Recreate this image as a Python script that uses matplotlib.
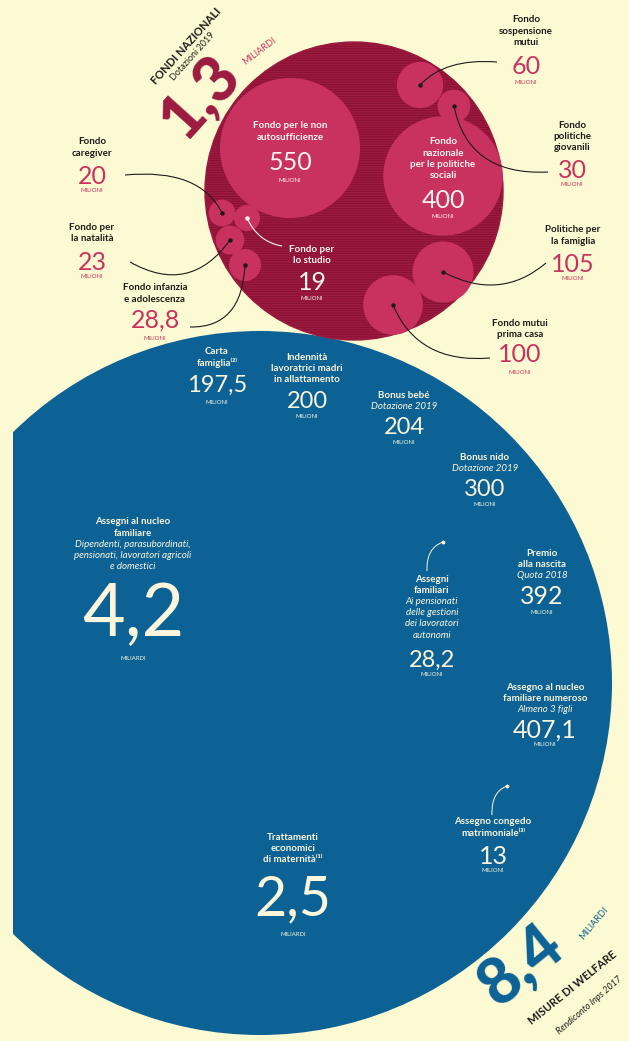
import matplotlib
matplotlib.use("Agg")
import matplotlib.pyplot as plt
from matplotlib.patches import Circle, Rectangle, PathPatch
from matplotlib.path import Path
import numpy as np

plt.rcParams['font.family'] = ['Lato', 'DejaVu Sans']
plt.rcParams['hatch.linewidth'] = 0.6

# ---------------- DATA ----------------
total_fondi = "1,3"
total_fondi_unit = "MILIARDI"
total_welfare = "8,4"
total_welfare_unit = "MILIARDI"

fondi_names = [
    "Fondo per le non\nautosufficienze",
    "Fondo\nnazionale\nper le politiche\nsociali",
    "Politiche per\nla famiglia",
    "Fondo mutui\nprima casa",
    "Fondo\nsospensione\nmutui",
    "Fondo\npolitiche\ngiovanili",
    "Fondo infanzia\ne adolescenza",
    "Fondo per\nla natalità",
    "Fondo\ncaregiver",
    "Fondo per\nlo studio",
]
fondi_values = [550, 400, 105, 100, 60, 30, 28.8, 23, 20, 19]  # milioni
fondi_value_labels = ["550", "400", "105", "100", "60", "30", "28,8", "23", "20", "19"]

welfare_names = [
    "Assegni al nucleo\nfamiliare",
    "Trattamenti\neconomici\ndi maternità⁽¹⁾",
    "Assegno al nucleo\nfamiliare numeroso",
    "Premio\nalla nascita",
    "Bonus nido",
    "Bonus bebé",
    "Indennità\nlavoratrici madri\nin allattamento",
    "Carta\nfamiglia⁽²⁾",
    "Assegni\nfamiliari",
    "Assegno congedo\nmatrimoniale⁽³⁾",
]
welfare_notes = [
    "Dipendenti, parasubordinati,\npensionati, lavoratori agricoli\ne domestici",
    "",
    "Almeno 3 figli",
    "Quota 2018",
    "Dotazione 2019",
    "Dotazione 2019",
    "",
    "",
    "Ai pensionati\ndelle gestioni\ndei lavoratori\nautonomi",
    "",
]
welfare_value_labels = ["4,2", "2,5", "407,1", "392", "300", "204", "200", "197,5", "28,2", "13"]
welfare_units = ["MILIARDI", "MILIARDI", "MILIONI", "MILIONI", "MILIONI",
                 "MILIONI", "MILIONI", "MILIONI", "MILIONI", "MILIONI"]

# ---------------- STYLE / LAYOUT ----------------
BG = '#FCFAD2'
MAROON = '#9C1A40'
STRIPE = '#86102F'
PINK = '#C9325F'
BLUE = '#0C6295'
CREAM = '#FBF6DC'
DARK = '#1E1A1A'

fondi_layout = [
    dict(c=(290, 148), lab=(290, 126), vy=163, uy=180, inside=True),
    dict(c=(443, 176), lab=(443, 142), vy=200, uy=216, inside=True),
    dict(c=(443, 272), lab=(573, 230), vy=264, uy=279, inside=False,
         ctrl=(500, 302), end=(546, 263)),
    dict(c=(393, 305), lab=(520, 323), vy=355, uy=372, inside=False,
         ctrl=(418, 364), end=(490, 358)),
    dict(c=(420, 85), lab=(526, 20), vy=66, uy=82, inside=False,
         ctrl=(445, 58), end=(497, 62)),
    dict(c=(454, 106), lab=(572, 125), vy=170, uy=185, inside=False,
         ctrl=(468, 176), end=(548, 172)),
    dict(c=(245, 265), lab=(155, 288), vy=320, uy=338, inside=False,
         ctrl=(242, 328), end=(190, 327)),
    dict(c=(230, 240), lab=(92, 227), vy=262, uy=276, inside=False,
         ctrl=(190, 296), end=(130, 262)),
    dict(c=(222, 213), lab=(92, 142), vy=177, uy=191, inside=False,
         ctrl=(200, 168), end=(125, 175)),
    dict(c=(247, 218), lab=(312, 249), vy=283, uy=299, inside=True,
         ctrl=(258, 242), end=(282, 246), white_line=True),
]

welfare_layout = [
    dict(x=133, y=522, vy=615, uy=658, vs=53),
    dict(x=293, y=837, vy=900, uy=934, vs=40),
    dict(x=545, y=687, vy=730, uy=745, vs=18),
    dict(x=542, y=553, vy=596, uy=612, vs=18),
    dict(x=485, y=457, vy=490, uy=505, vs=17),
    dict(x=404, y=395, vy=428, uy=443, vs=17),
    dict(x=307, y=357, vy=401, uy=417, vs=17),
    dict(x=217, y=352, vy=385, uy=403, vs=17),
    dict(x=432, y=579, vy=660, uy=675, vs=17,
         arc=((427, 571), (426, 548), (443, 542))),
    dict(x=493, y=822, vy=857, uy=871, vs=18,
         arc=((492, 815), (491, 792), (507, 786))),
]

BUBBLE_SCALE = 70 / np.sqrt(550)  # radius in px per sqrt(milioni)
LH = 11.2

fig = plt.figure(figsize=(6.29, 10.41), dpi=100)
fig.patch.set_facecolor(BG)
ax = fig.add_axes([0, 0, 1, 1])
ax.set_xlim(0, 629)
ax.set_ylim(1041, 0)
ax.axis('off')
ax.set_facecolor(BG)


def curve(p0, c, p2, color, lw=0.8):
    path = Path([p0, c, p2], [Path.MOVETO, Path.CURVE3, Path.CURVE3])
    ax.add_patch(PathPatch(path, fc='none', ec=color, lw=lw, zorder=6))


def lines_block(x, y, text, color, weight='bold', style='normal', size=7):
    n = 0
    for i, t in enumerate(text.split("\n")):
        ax.text(x, y + i * LH, t, ha='center', va='center', fontsize=size,
                color=color, fontweight=weight, fontstyle=style, zorder=7)
        n += 1
    return n


# ---- blue circle (welfare) ----
blue = Circle((260, 683), 352, fc=BLUE, ec='none', zorder=1)
ax.add_patch(blue)
clip = Rectangle((13, 0), 700, 1041, transform=ax.transData)
blue.set_clip_path(clip)

# ---- maroon circle (fondi) ----
ax.add_patch(Circle((354, 191), 149, fc=MAROON, ec=STRIPE, lw=0,
                    hatch='-------', zorder=2))
ax.add_patch(Circle((354, 191), 149, fc='none', ec=MAROON, lw=1.0, zorder=2))

for name, val, vlab, lay in zip(fondi_names, fondi_values, fondi_value_labels, fondi_layout):
    r = BUBBLE_SCALE * np.sqrt(val)
    ax.add_patch(Circle(lay['c'], r, fc=PINK, ec='none', zorder=3))
    lx, ly = lay['lab']
    if lay['inside']:
        tcol, vcol = '#FFF6F0', '#FFF6F0'
    else:
        tcol, vcol = DARK, PINK
    lines_block(lx, ly, name, tcol)
    ax.text(lx, lay['vy'], vlab, ha='center', va='center', fontsize=18,
            color=vcol, fontweight='normal', zorder=7)
    ax.text(lx, lay['uy'], "MILIONI", ha='center', va='center', fontsize=4.3,
            color=vcol, zorder=7)
    if 'ctrl' in lay:
        lc = '#FFF6F0' if lay.get('white_line') else DARK
        curve(lay['c'], lay['ctrl'], lay['end'], lc, lw=0.8)
        ax.plot(*lay['c'], 'o', ms=2.2, color=lc, zorder=8)

# ---- welfare labels ----
for name, note, vlab, unit, lay in zip(welfare_names, welfare_notes, welfare_value_labels,
                                       welfare_units, welfare_layout):
    n = lines_block(lay['x'], lay['y'], name, CREAM)
    if note:
        lines_block(lay['x'], lay['y'] + n * LH, note, CREAM, weight='normal', style='italic')
    ax.text(lay['x'], lay['vy'], vlab, ha='center', va='center', fontsize=lay['vs'],
            color=CREAM, fontweight='normal', zorder=7)
    ax.text(lay['x'], lay['uy'], unit, ha='center', va='center', fontsize=4.3,
            color=CREAM, zorder=7)
    if 'arc' in lay:
        p0, c, p2 = lay['arc']
        curve(p0, c, p2, CREAM, lw=0.7)
        ax.plot(*p2, 'o', ms=1.8, color=CREAM, zorder=8)

# ---- titles (rotated) ----
ax.text(186, 46, "FONDI NAZIONALI", rotation=48, rotation_mode='anchor', ha='center',
        va='center', fontsize=8, fontweight='bold', color=DARK, zorder=10)
ax.text(193, 56, "Dotazioni 2019", rotation=48, rotation_mode='anchor', ha='center',
        va='center', fontsize=6.5, color=DARK, zorder=10)
ax.text(200, 97, total_fondi, rotation=48, rotation_mode='anchor', ha='center',
        va='center', fontsize=45, fontweight='black', color=MAROON, zorder=10)
ax.text(259, 51, total_fondi_unit, rotation=37, rotation_mode='anchor', ha='center',
        va='center', fontsize=6.5, color=PINK, zorder=10)

ax.text(522, 966, total_welfare, rotation=39, rotation_mode='anchor', ha='center',
        va='center', fontsize=46, fontweight='black', color=BLUE, zorder=10)
ax.text(594, 923, total_welfare_unit, rotation=50, rotation_mode='anchor', ha='center',
        va='center', fontsize=6.5, color=BLUE, zorder=10)
ax.text(573, 988, "MISURE DI WELFARE", rotation=39, rotation_mode='anchor', ha='center',
        va='center', fontsize=8, fontweight='bold', color=DARK, zorder=10)
ax.text(589, 1005, "Rendiconto Inps 2017", rotation=41, rotation_mode='anchor', ha='center',
        va='center', fontsize=6.5, fontstyle='italic', color=DARK, zorder=10)

fig.savefig("out.png", dpi=100, facecolor=BG)
